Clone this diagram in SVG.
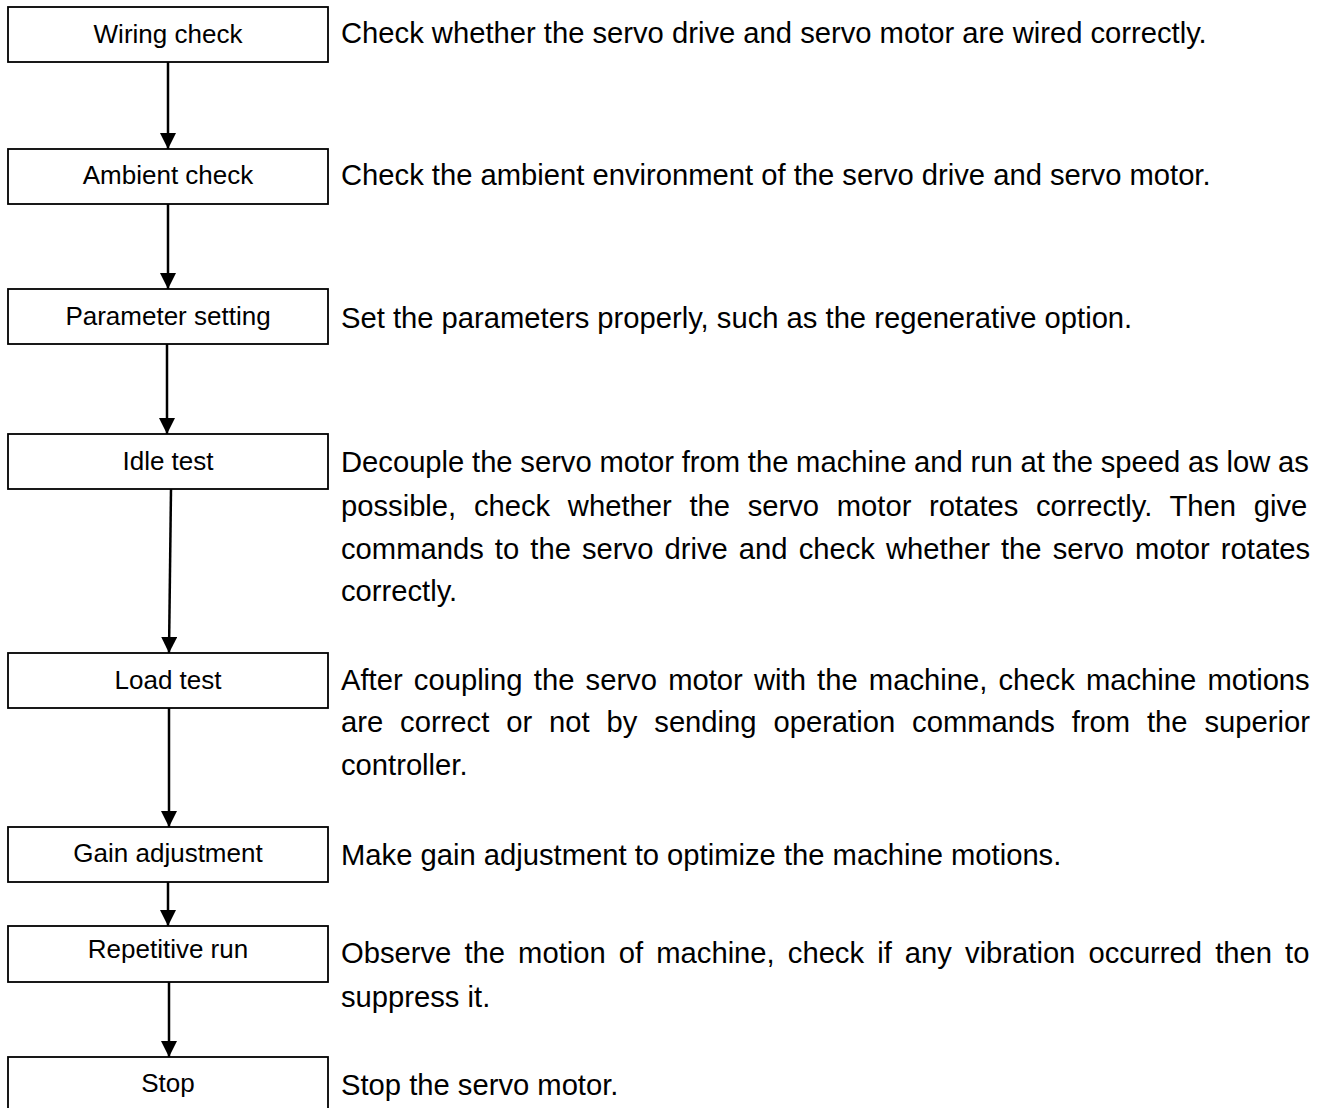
<svg xmlns="http://www.w3.org/2000/svg" width="1331" height="1108" viewBox="0 0 1331 1108">
<defs>
<style>
.box{fill:#fff;stroke:#000;stroke-width:1.8}
.lbl{font-family:"Liberation Sans",Arial,sans-serif;font-size:26px;fill:#000;text-anchor:middle}
.desc{font-family:"Liberation Sans",Arial,sans-serif;font-size:29.2px;fill:#000}
.conn{stroke:#000;stroke-width:2.5;fill:none;marker-end:url(#ah)}
</style>
<marker id="ah" viewBox="0 0 10 10" refX="10" refY="5" markerWidth="6.4" markerHeight="6.4" markerUnits="strokeWidth" orient="auto">
<path d="M0,0 L10,5 L0,10 Z" fill="#000"/>
</marker>
</defs>
<rect width="1331" height="1108" fill="#fff"/>
<g id="connectors">
<line class="conn" x1="168" y1="62" x2="168" y2="149"/>
<line class="conn" x1="168" y1="204" x2="168" y2="289"/>
<line class="conn" x1="167" y1="344" x2="167" y2="434"/>
<line class="conn" x1="171" y1="489" x2="169" y2="653"/>
<line class="conn" x1="169" y1="708" x2="169" y2="827"/>
<line class="conn" x1="168" y1="882" x2="168" y2="926"/>
<line class="conn" x1="169" y1="982" x2="169" y2="1057"/>
</g>
<g id="n1"><rect class="box" x="8" y="7" width="320" height="55"/><text class="lbl" x="168" y="43">Wiring check</text>
<text class="desc" x="341" y="43">Check whether the servo drive and servo motor are wired correctly.</text></g>
<g id="n2"><rect class="box" x="8" y="149" width="320" height="55"/><text class="lbl" x="168" y="184">Ambient check</text>
<text class="desc" x="341" y="185">Check the ambient environment of the servo drive and servo motor.</text></g>
<g id="n3"><rect class="box" x="8" y="289" width="320" height="55"/><text class="lbl" x="168" y="325">Parameter setting</text>
<text class="desc" x="341" y="328">Set the parameters properly, such as the regenerative option.</text></g>
<g id="n4"><rect class="box" x="8" y="434" width="320" height="55"/><text class="lbl" x="168" y="470">Idle test</text>
<text class="desc" x="341" y="472" word-spacing="-0.4">Decouple the servo motor from the machine and run at the speed as low as</text>
<text class="desc" x="341" y="516" word-spacing="9.6">possible, check whether the servo motor rotates correctly. Then give</text>
<text class="desc" x="341" y="559" word-spacing="3.0">commands to the servo drive and check whether the servo motor rotates</text>
<text class="desc" x="341" y="601">correctly.</text></g>
<g id="n5"><rect class="box" x="8" y="653" width="320" height="55"/><text class="lbl" x="168" y="689">Load test</text>
<text class="desc" x="341" y="690" word-spacing="3.1">After coupling the servo motor with the machine, check machine motions</text>
<text class="desc" x="341" y="732" word-spacing="8.8">are correct or not by sending operation commands from the superior</text>
<text class="desc" x="341" y="775">controller.</text></g>
<g id="n6"><rect class="box" x="8" y="827" width="320" height="55"/><text class="lbl" x="168" y="862">Gain adjustment</text>
<text class="desc" x="341" y="865">Make gain adjustment to optimize the machine motions.</text></g>
<g id="n7"><rect class="box" x="8" y="926" width="320" height="56"/><text class="lbl" x="168" y="958">Repetitive run</text>
<text class="desc" x="341" y="963" word-spacing="5.0">Observe the motion of machine, check if any vibration occurred then to</text>
<text class="desc" x="341" y="1007">suppress it.</text></g>
<g id="n8"><rect class="box" x="8" y="1057" width="320" height="60"/><text class="lbl" x="168" y="1092">Stop</text>
<text class="desc" x="341" y="1095">Stop the servo motor.</text></g>
</svg>
